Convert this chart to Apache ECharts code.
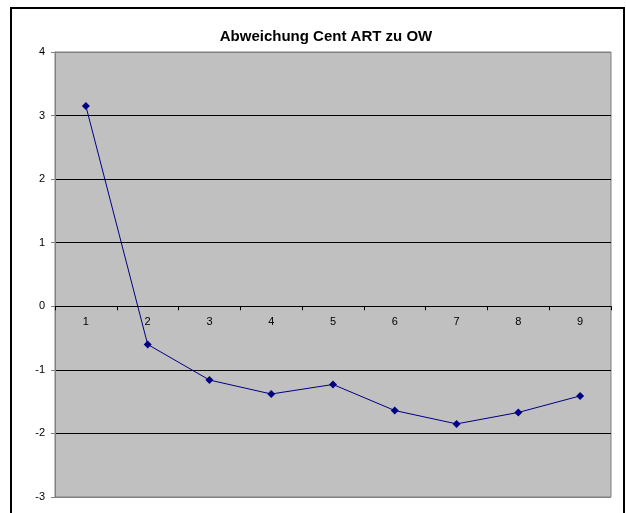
<!DOCTYPE html>
<html>
<head>
<meta charset="utf-8">
<script src="https://cdn.jsdelivr.net/npm/echarts@6/dist/echarts.min.js"></script>
<style>
  html, body { margin: 0; padding: 0; background: #fff; }
  #chart { width: 626px; height: 513px; }
</style>
</head>
<body>
<div id="chart"></div>
<script>
var categories = ['1', '2', '3', '4', '5', '6', '7', '8', '9'];
var abweichung = [3.15, -0.60, -1.16, -1.38, -1.23, -1.64, -1.85, -1.67, -1.41];
var yMin = -3, yMax = 4;

var gridTop = 52, gridBottom = 16;
var gridH = 513 - gridTop - gridBottom;
// move the category axis up to the zero line, labels follow it
var zeroOffset = -gridH * (0 - yMin) / (yMax - yMin);

var chart = echarts.init(document.getElementById('chart'));

chart.setOption({
    animation: false,
    textStyle: { fontFamily: 'Liberation Sans, Arial, sans-serif' },
    title: {
        text: 'Abweichung Cent ART zu OW',
        left: 321,
        top: 24,
        textAlign: 'center',
        textStyle: { fontSize: 15, fontWeight: 'bold', color: '#000' }
    },
    graphic: [{
        type: 'rect',
        shape: { x: 11, y: 8, width: 613, height: 520 },
        style: { fill: 'none', stroke: '#000', lineWidth: 2 },
        silent: true
    }],
    grid: {
        left: 55, right: 15, top: gridTop, bottom: gridBottom,
        outerBoundsMode: 'none',
        containLabel: false,
        show: true,
        backgroundColor: '#C0C0C0',
        borderColor: '#808080',
        borderWidth: 1
    },
    xAxis: {
        type: 'category',
        data: categories,
        boundaryGap: true,
        offset: zeroOffset,
        axisLine: { onZero: false, lineStyle: { color: '#000', width: 1 } },
        axisTick: { show: true, length: 4, alignWithLabel: false, lineStyle: { color: '#000' } },
        axisLabel: { color: '#000', fontSize: 11, margin: 10 },
        splitLine: { show: false }
    },
    yAxis: {
        type: 'value',
        min: yMin,
        max: yMax,
        interval: 1,
        axisLine: { show: true, lineStyle: { color: '#808080' } },
        axisTick: { show: true, length: 4, lineStyle: { color: '#808080' } },
        axisLabel: { color: '#000', fontSize: 11, margin: 10 },
        splitLine: {
            show: true,
            lineStyle: {
                color: ['#808080', '#000', '#000', '#000', '#000', '#000', '#000', '#808080'],
                width: 1
            }
        }
    },
    series: [{
        type: 'line',
        data: abweichung,
        symbol: 'diamond',
        symbolSize: 8,
        lineStyle: { color: '#000080', width: 1 },
        itemStyle: { color: '#000080' }
    }]
});
</script>
</body>
</html>
